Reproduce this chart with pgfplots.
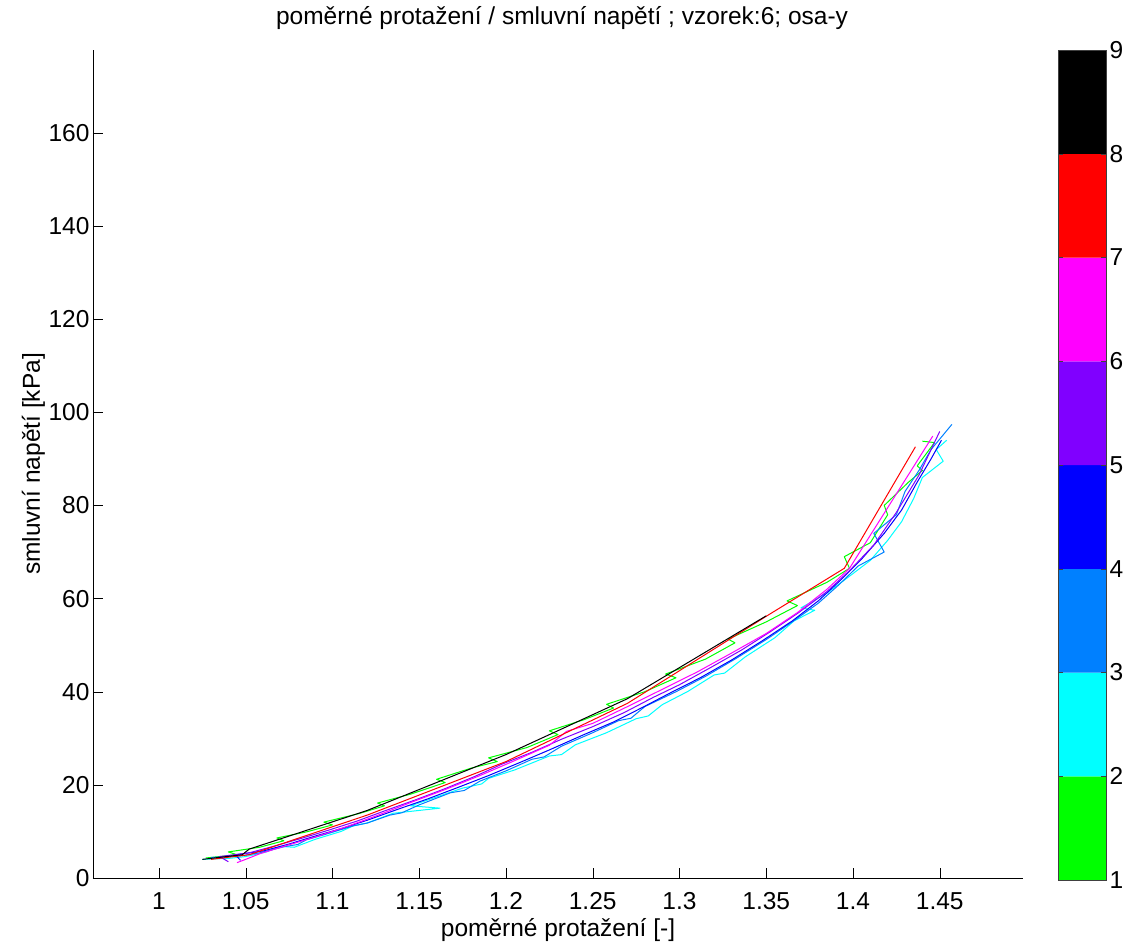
\documentclass[border=0pt]{standalone}
\usepackage{pgfplots}
\pgfplotsset{compat=1.18}
\usepackage{fontspec}
\setmainfont{Liberation Sans}
\definecolor{c1}{RGB}{0,255,0}
\definecolor{c2}{RGB}{0,255,255}
\definecolor{c3}{RGB}{0,128,255}
\definecolor{c4}{RGB}{0,0,255}
\definecolor{c5}{RGB}{128,0,255}
\definecolor{c6}{RGB}{255,0,255}
\definecolor{c7}{RGB}{255,0,0}
\definecolor{c8}{RGB}{0,0,0}
\begin{document}
\begin{tikzpicture}[x=1pt,y=1pt]
\useasboundingbox (-93,-65) rectangle (1038,878);
\begin{axis}[
  at={(0,0)}, anchor=south west, scale only axis,
  width=930pt, height=828pt,
  xmin=0.962, xmax=1.498, ymin=0, ymax=177.8,
  axis lines*=left, axis line style={-, black},
  tick align=inside, major tick length=10pt,
  tick style={black},
  xtick={1,1.05,1.1,1.15,1.2,1.25,1.3,1.35,1.4,1.45},
  xticklabels={1,1.05,1.1,1.15,1.2,1.25,1.3,1.35,1.4,1.45},
  ytick={0,20,40,60,80,100,120,140,160},
  yticklabels={0,20,40,60,80,100,120,140,160},
  ticklabel style={font=\fontsize{24.5}{29}\selectfont},
  xticklabel style={yshift=-11pt},
  label style={font=\fontsize{24.5}{29}\selectfont},
  xlabel={poměrné protažení [-]},
  xlabel style={at={(axis description cs:0.5,0)}, anchor=base, yshift=-58pt},
  ylabel={smluvní napětí [kPa]},
  ylabel style={at={(axis description cs:0,0.5)}, anchor=base, yshift=53pt},
  title={poměrné protažení / smluvní napětí ; vzorek:6; osa-y},
  title style={font=\fontsize{24.5}{29}\selectfont, at={(axis description cs:0.5,1)}, anchor=base, yshift=19pt, xshift=4pt},
  every axis plot/.append style={line width=1pt, line join=round},
]
% series 1 (green)
\addplot[c1] coordinates {
(1.027,4.3) (1.045,5.0) (1.040,5.6) (1.058,6.6) (1.072,8.0) (1.068,8.6)
(1.085,9.9) (1.100,11.4) (1.095,12.0) (1.115,13.8) (1.130,15.5) (1.126,16.1)
(1.145,18.0) (1.165,20.5) (1.160,21.2) (1.180,23.6) (1.195,25.0) (1.190,25.8)
(1.212,28.0) (1.230,30.8) (1.225,31.6) (1.245,34.0) (1.262,36.5) (1.258,37.3)
(1.280,40.0) (1.298,43.0) (1.292,43.8) (1.315,47.0) (1.332,50.5) (1.328,51.3)
(1.350,55.0) (1.368,58.5) (1.362,59.5) (1.385,63.5) (1.398,66.5) (1.395,69.0)
(1.410,72.0) (1.420,78.0) (1.418,80.0) (1.432,85.0) (1.440,87.5) (1.437,88.5)
(1.447,93.5) (1.440,93.8)};
% series 2 (cyan)
\addplot[c2] coordinates {
(1.025,4.0) (1.040,4.2) (1.050,4.6) (1.062,5.6) (1.070,6.8) (1.078,6.6) (1.090,8.3)
(1.105,10.0) (1.112,11.2) (1.120,11.8) (1.135,13.9) (1.162,15.0) (1.145,15.5) (1.160,17.4)
(1.175,19.3) (1.186,20.2) (1.190,21.4) (1.205,23.2) (1.225,26.2) (1.232,26.5) (1.240,28.6) (1.258,31.2)
(1.275,34.2) (1.282,34.8) (1.290,37.2) (1.305,40.1) (1.320,43.6) (1.326,44.0) (1.338,47.5) (1.355,51.6)
(1.366,55.2) (1.378,57.5) (1.370,58.0) (1.385,61.2) (1.398,64.8) (1.410,68.2)
(1.420,72.5) (1.428,76.5) (1.435,81.5) (1.440,86.0) (1.452,89.5) (1.448,92.0)
(1.454,94.0)};
% series 3 (light blue)
\addplot[c3] coordinates {
(1.030,4.4) (1.048,4.8) (1.058,5.4) (1.072,6.7) (1.080,7.2) (1.085,8.2) (1.098,9.6)
(1.112,11.2) (1.120,11.8) (1.133,13.5) (1.140,14.0) (1.150,15.7) (1.168,18.3) (1.176,18.8) (1.185,20.8)
(1.200,23.0) (1.215,25.5) (1.222,26.0) (1.232,28.3) (1.250,31.2) (1.265,33.8) (1.272,34.3) (1.280,36.8)
(1.298,40.0) (1.315,43.3) (1.332,47.0) (1.350,51.2) (1.365,55.0) (1.380,59.0)
(1.392,63.0) (1.403,67.0) (1.418,70.0) (1.412,74.0) (1.425,78.0) (1.430,83.0)
(1.438,87.5) (1.445,92.0) (1.457,97.4)};
% series 4 (blue)
\addplot[c4] coordinates {
(1.047,3.8) (1.044,5.0) (1.060,5.8) (1.075,7.3) (1.090,9.0) (1.105,10.6)
(1.120,12.4) (1.138,14.8) (1.155,17.0) (1.172,19.4) (1.190,22.0) (1.208,24.8)
(1.225,27.5) (1.245,30.8) (1.262,33.5) (1.278,36.5) (1.295,39.8) (1.312,43.0)
(1.330,46.8) (1.348,51.0) (1.365,55.2) (1.380,59.5) (1.393,64.0) (1.405,68.5)
(1.418,74.0) (1.428,79.0) (1.437,85.0) (1.445,90.0) (1.451,94.0)};
% series 5 (purple)
\addplot[c5] coordinates {
(1.040,3.5) (1.035,4.6) (1.052,5.4) (1.066,6.8) (1.082,8.5) (1.098,10.3)
(1.114,12.2) (1.130,14.4) (1.148,16.8) (1.165,19.2) (1.182,21.8) (1.198,24.5)
(1.215,27.0) (1.232,29.8) (1.250,32.5) (1.268,35.5) (1.285,38.8) (1.300,41.5)
(1.318,45.2) (1.336,49.0) (1.352,52.8) (1.368,56.8) (1.385,61.5) (1.398,66.0)
(1.412,71.5) (1.425,78.5) (1.438,86.5) (1.450,95.9)};
% series 6 (magenta)
\addplot[c6] coordinates {
(1.045,3.3) (1.050,4.0) (1.058,5.2) (1.072,6.8) (1.090,8.8) (1.108,11.0)
(1.125,13.3) (1.145,16.2) (1.165,19.0) (1.185,22.0) (1.205,25.2) (1.225,28.5)
(1.235,31.5) (1.250,33.2) (1.270,36.8) (1.290,40.5) (1.310,44.2) (1.330,48.3)
(1.350,52.5) (1.368,57.0) (1.385,62.0) (1.398,66.5) (1.446,94.9)};
% series 7 (red)
\addplot[c7] coordinates {
(1.030,4.0) (1.052,5.0) (1.120,13.5) (1.200,25.0) (1.270,37.5) (1.350,56.2)
(1.395,66.5) (1.436,92.6)};
% series 8 (black)
\addplot[c8] coordinates {
(1.025,4.0) (1.048,5.0) (1.052,6.2) (1.120,14.5) (1.200,26.5) (1.270,38.5)
(1.350,56.3)};
\end{axis}
\begin{axis}[
  at={(965pt,-2pt)}, anchor=south west, scale only axis,
  width=48pt, height=830pt,
  xmin=0, xmax=1, ymin=1, ymax=9,
  axis on top, axis line style={black!75},
  xtick=\empty,
  ytick={1,2,3,4,5,6,7,8,9},
  yticklabels={1,2,3,4,5,6,7,8,9},
  yticklabel pos=right,
  tick align=inside, major tick length=5pt,
  tick style={black!75},
  ticklabel style={font=\fontsize{24.5}{29}\selectfont},
]
\addplot[fill=c1, draw=none] coordinates {(0,1) (1,1) (1,2) (0,2) (0,1)};
\addplot[fill=c2, draw=none] coordinates {(0,2) (1,2) (1,3) (0,3) (0,2)};
\addplot[fill=c3, draw=none] coordinates {(0,3) (1,3) (1,4) (0,4) (0,3)};
\addplot[fill=c4, draw=none] coordinates {(0,4) (1,4) (1,5) (0,5) (0,4)};
\addplot[fill=c5, draw=none] coordinates {(0,5) (1,5) (1,6) (0,6) (0,5)};
\addplot[fill=c6, draw=none] coordinates {(0,6) (1,6) (1,7) (0,7) (0,6)};
\addplot[fill=c7, draw=none] coordinates {(0,7) (1,7) (1,8) (0,8) (0,7)};
\addplot[fill=c8, draw=none] coordinates {(0,8) (1,8) (1,9) (0,9) (0,8)};
\end{axis}
\end{tikzpicture}
\end{document}
